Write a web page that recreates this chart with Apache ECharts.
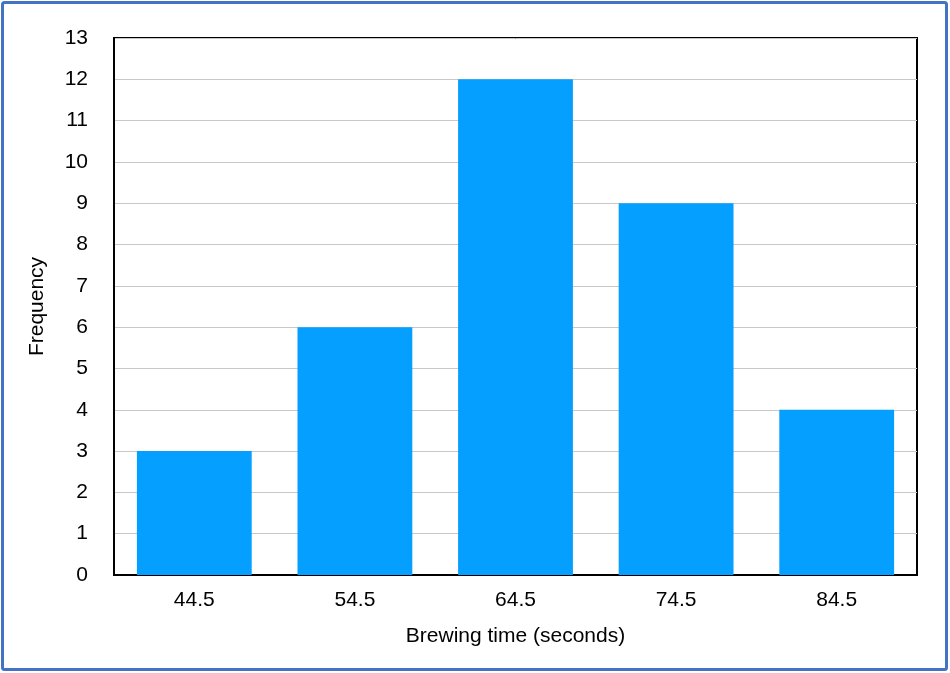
<!DOCTYPE html>
<html>
<head>
<meta charset="utf-8">
<script src="https://cdn.jsdelivr.net/npm/echarts@6/dist/echarts.min.js"></script>
<style>
  html, body { margin: 0; padding: 0; background: #fff; }
  #main { width: 950px; height: 673px; }
</style>
</head>
<body>
<div id="main"></div>
<script>
// brewing time classes (midpoints) and how many fell in each
const categories = ["44.5", "54.5", "64.5", "74.5", "84.5"];
const frequency = [3, 6, 12, 9, 4];
const yTicks = { min: 0, max: 13, interval: 1 };

var chartDom = document.getElementById("main");
var myChart = echarts.init(chartDom);
var option;

const font = "Liberation Sans, Arial, sans-serif";

option = {
  backgroundColor: "#fff",
  animation: false,
  // blue frame round the whole picture
  graphic: [
    {
      type: "rect",
      shape: { x: 2.5, y: 2.5, width: 944, height: 667, r: 2 },
      style: { fill: "none", stroke: "#4472C4", lineWidth: 3 },
      silent: true,
    },
  ],
  grid: {
    left: 114,
    right: 33,
    top: 38,
    bottom: 98,
    show: true,
    borderColor: "#000",
    borderWidth: 2,
    backgroundColor: "transparent",
  },
  xAxis: {
    type: "category",
    data: categories,
    name: "Brewing time (seconds)",
    nameLocation: "middle",
    nameGap: 51,
    nameTextStyle: { fontSize: 21, color: "#000", fontFamily: font },
    axisLine: { show: true, lineStyle: { color: "#000", width: 2 } },
    axisTick: { show: false },
    axisLabel: { fontSize: 21, color: "#000", fontFamily: font, margin: 15 },
  },
  yAxis: {
    type: "value",
    min: yTicks.min,
    max: yTicks.max,
    interval: yTicks.interval,
    name: "Frequency",
    nameLocation: "middle",
    nameGap: 66,
    nameTextStyle: { fontSize: 21, color: "#000", fontFamily: font },
    axisLine: { show: true, lineStyle: { color: "#000", width: 2 } },
    axisTick: { show: false },
    axisLabel: { fontSize: 21, color: "#000", fontFamily: font, margin: 26 },
    splitLine: { show: true, lineStyle: { color: "#c8c8c8", width: 1 } },
  },
  series: [
    {
      type: "bar",
      data: frequency,
      barCategoryGap: "28.5%",
      itemStyle: { color: "#05A0FF" },
    },
  ],
};

option && myChart.setOption(option);
</script>
</body>
</html>
